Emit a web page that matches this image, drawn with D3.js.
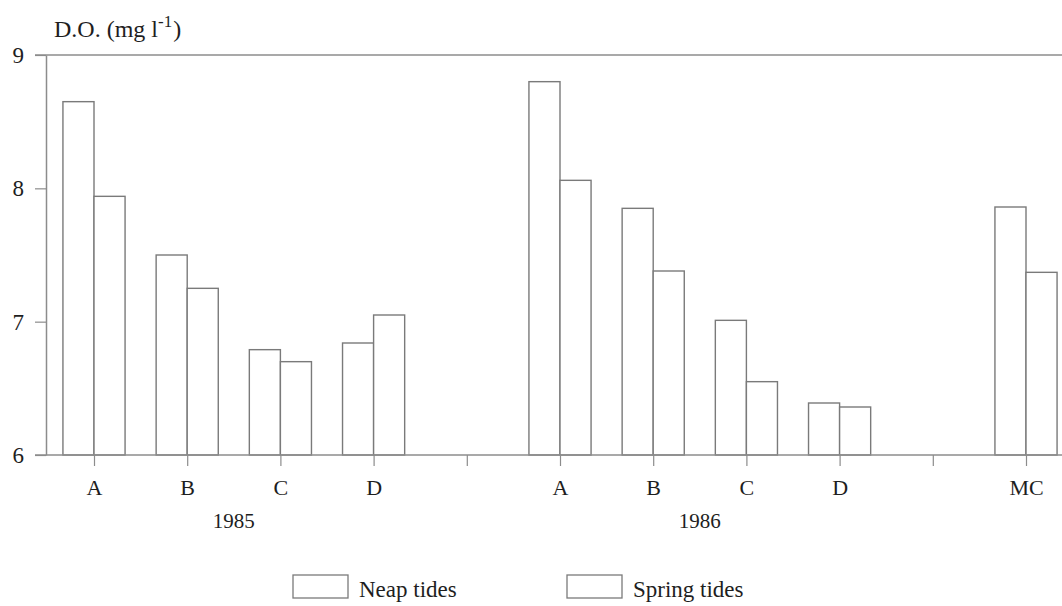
<!DOCTYPE html>
<html>
<head>
<meta charset="utf-8">
<script src="https://cdn.jsdelivr.net/npm/d3@7"></script>
<style>
  html, body { margin: 0; padding: 0; background: #fff; }
  svg text { font-family: "Liberation Serif", "DejaVu Serif", serif; fill: #1e1e1e; }
</style>
</head>
<body>
<svg id="chart" width="1062" height="606"></svg>
<script>
// ---- data ----
const slots = ["A85", "B85", "C85", "D85", "gap1", "A86", "B86", "C86", "D86", "gap2", "MC"];
const slotLabels = ["A", "B", "C", "D", "", "A", "B", "C", "D", "", "MC"];
const barSlots = ["A85", "B85", "C85", "D85", "A86", "B86", "C86", "D86", "MC"];
const neapValues = [8.65, 7.50, 6.79, 6.84, 8.80, 7.85, 7.01, 6.39, 7.86];
const springValues = [7.94, 7.25, 6.70, 7.05, 8.06, 7.38, 6.55, 6.36, 7.37];
const yearLabels = ["1985", "1986"];
const yearCenters = [["B85", "C85"], ["B86", "C86"]];
const yTicks = [6, 7, 8, 9];
const seriesNames = ["Neap tides", "Spring tides"];

// ---- setup ----
const svg = d3.select("#chart");
const lineColor = "#8c8c8c";
const barStroke = "#7a7a7a";
const serif = "Liberation Serif, DejaVu Serif, serif";

const x = d3.scalePoint().domain(slots).range([94, 1026]);
const w = x.step() / 3;
const y = d3.scaleLinear().domain([6, 9]).range([455, 55]);

// top frame line at 9
svg.append("line")
  .attr("x1", 35).attr("x2", 1062)
  .attr("y1", y(9)).attr("y2", y(9))
  .attr("stroke", lineColor).attr("stroke-width", 1.5);

// y axis
const yAxis = d3.axisLeft(y).tickValues(yTicks).tickFormat(d3.format("d"))
  .tickSize(11).tickSizeOuter(0).tickPadding(11);
const gy = svg.append("g").attr("transform", "translate(46,0)").call(yAxis);
gy.attr("font-family", serif);
gy.select(".domain").attr("stroke", lineColor).attr("stroke-width", 1.5);
gy.selectAll(".tick line").attr("stroke", lineColor).attr("stroke-width", 1.2);
gy.selectAll(".tick text").attr("font-size", 23).attr("fill", "#1e1e1e");

// bars
const barData = barSlots.map((s, i) => ({ slot: s, neap: neapValues[i], spring: springValues[i] }));
const bars = svg.append("g");
bars.selectAll("rect.neap").data(barData).join("rect")
  .attr("class", "neap")
  .attr("x", d => x(d.slot) - w)
  .attr("y", d => y(d.neap))
  .attr("width", w)
  .attr("height", d => y(6) - y(d.neap))
  .attr("fill", "#fff").attr("stroke", barStroke).attr("stroke-width", 1.4);
bars.selectAll("rect.spring").data(barData).join("rect")
  .attr("class", "spring")
  .attr("x", d => x(d.slot))
  .attr("y", d => y(d.spring))
  .attr("width", w)
  .attr("height", d => y(6) - y(d.spring))
  .attr("fill", "#fff").attr("stroke", barStroke).attr("stroke-width", 1.4);

// x baseline + ticks
svg.append("line")
  .attr("x1", 35).attr("x2", 1062)
  .attr("y1", y(6)).attr("y2", y(6))
  .attr("stroke", lineColor).attr("stroke-width", 1.5);
const xAxis = d3.axisBottom(x).tickSize(11).tickSizeOuter(0).tickPadding(13)
  .tickFormat((d, i) => slotLabels[i]);
const gx = svg.append("g").attr("transform", `translate(0,${y(6)})`).call(xAxis);
gx.attr("font-family", serif);
gx.select(".domain").remove();
gx.selectAll(".tick line").attr("stroke", lineColor).attr("stroke-width", 1.2);
gx.selectAll(".tick text").attr("font-size", 22).attr("fill", "#1e1e1e");

// year labels
svg.selectAll("text.year").data(yearLabels).join("text")
  .attr("class", "year")
  .attr("x", (d, i) => (x(yearCenters[i][0]) + x(yearCenters[i][1])) / 2)
  .attr("y", 528)
  .attr("text-anchor", "middle")
  .attr("font-size", 21)
  .text(d => d);

// y title
const title = svg.append("text").attr("x", 54).attr("y", 37).attr("font-size", 24);
title.append("tspan").text("D.O. (mg l");
title.append("tspan").attr("dy", -10).attr("font-size", 17).text("-1");
title.append("tspan").attr("dy", 10).attr("dx", 1).text(")");

// legend
const legendX = [293, 567];
const lg = svg.selectAll("g.legend").data(seriesNames).join("g")
  .attr("class", "legend")
  .attr("transform", (d, i) => `translate(${legendX[i]},575)`);
lg.append("rect").attr("width", 55).attr("height", 23)
  .attr("fill", "#fff").attr("stroke", barStroke).attr("stroke-width", 1.3);
lg.append("text").attr("x", 66).attr("y", 22).attr("font-size", 23).text(d => d);
</script>
</body>
</html>
